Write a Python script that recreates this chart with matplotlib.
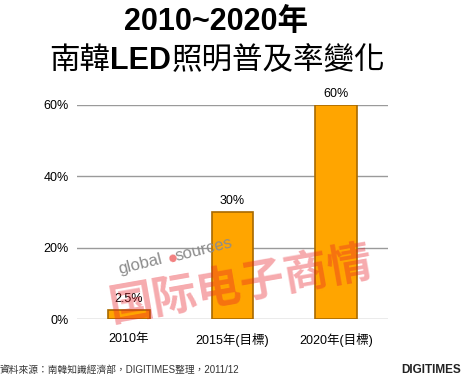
import matplotlib.pyplot as plt

plt.rcParams['font.family'] = ['Liberation Sans', 'Noto Sans CJK TC', 'DejaVu Sans']

categories = ['2010年', '2015年(目標)', '2020年(目標)']
values = [2.5, 30, 60]
value_labels = ['2.5%', '30%', '60%']
yticks = [0, 20, 40, 60]
ytick_labels = ['0%', '20%', '40%', '60%']

fig = plt.figure(figsize=(4.71, 3.81), dpi=100)
ax = fig.add_axes([0.1635, 0.1627, 0.66, 0.5625])

x = range(len(categories))
ax.bar(x, values, width=0.4, color='#FFA500', edgecolor='#A86A00',
       linewidth=1.2, zorder=3)
for i, (v, lab) in enumerate(zip(values, value_labels)):
    ax.text(i, v + 3.1, lab, ha='center', va='center', fontsize=9,
            clip_on=False, zorder=4)

ax.set_xlim(-0.5, 2.5)
ax.set_ylim(0, 60)
ax.set_yticks(yticks)
ax.set_yticklabels(ytick_labels, fontsize=9)
ax.set_xticks(list(x))
ax.set_xticklabels(categories, fontsize=9)
ax.tick_params(axis='y', length=0, pad=6)
ax.tick_params(axis='x', length=0, pad=10)
ax.yaxis.grid(True, color='#9A9A9A', linewidth=1, zorder=0)
for s in ax.spines.values():
    s.set_visible(False)

# title
fig.text(0.459, 0.942, '2010~2020年', ha='center', va='center',
         fontsize=22, fontweight='bold')

# second line: CJK in regular weight, LED in bold
parts = [('南韓', 'normal'), ('LED', 'bold'), ('照明普及率變化', 'normal')]
fig.canvas.draw()
r = fig.canvas.get_renderer()
objs = []
for s, w in parts:
    t = fig.text(0, 0.84, s, ha='left', va='center', fontsize=22, fontweight=w)
    objs.append(t)
widths = [t.get_window_extent(r).width for t in objs]
total = sum(widths)
cx = 0.461 * fig.bbox.width
xpos = cx - total / 2
for t, wd in zip(objs, widths):
    t.set_x(xpos / fig.bbox.width)
    xpos += wd

# watermark
fig.text(0.513, 0.25, '国际电子商情', color='#E8202A', fontsize=32,
         rotation=10, ha='center', va='center', alpha=0.38,
         fontweight='bold', family=['Noto Sans CJK SC'], zorder=10)
fig.text(0.297, 0.307, 'global', color='#8C8C8C', fontsize=12,
         rotation=14, ha='center', va='center', zorder=11)
fig.text(0.366, 0.323, '●', color='#F28080', fontsize=7,
         rotation=14, ha='center', va='center', family=['DejaVu Sans'],
         zorder=11)
fig.text(0.432, 0.344, 'sources', color='#8C8C8C', fontsize=12,
         rotation=14, ha='center', va='center', zorder=11)

# footer
fig.text(0.0, 0.029, '資料來源：南韓知識經濟部，DIGITIMES整理，2011/12',
         ha='left', va='center', fontsize=7, color='#333333')
fig.text(0.979, 0.029, 'DIGITIMES', ha='right', va='center', fontsize=8.5,
         fontweight='bold', color='#222222')

fig.savefig('out.png', dpi=100)
